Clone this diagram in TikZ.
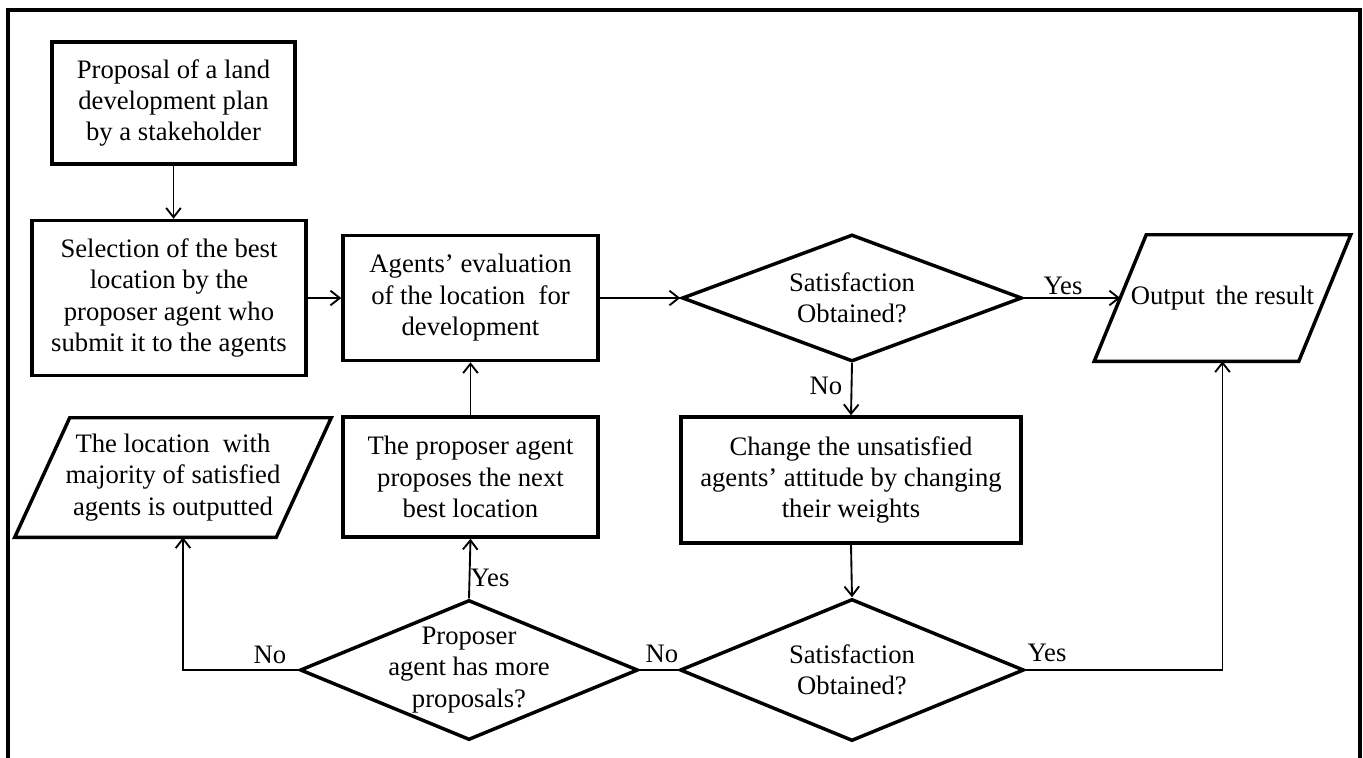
\documentclass[tikz,border=0pt]{standalone}
\usepackage{fontspec}
\setmainfont{Liberation Serif}
\usetikzlibrary{shapes.geometric,arrows.meta}
\newcommand\pxu{0.75pt}
\begin{document}
\begin{tikzpicture}[x=0.75pt,y=-0.75pt,
  every node/.style={font=\fontsize{20}{23.6}\selectfont, align=center, inner sep=0pt},
  box/.style={draw, line width=2.6pt},
  dia/.style={draw, diamond, line width=2.6pt},
  outline/.style={line width=2.6pt},
  link/.style={line width=1.4pt},
  arr/.style={link, -{Straight Barb[length=7pt,width=11pt]}}]
\useasboundingbox (0,0) rectangle (1363,757);

% frame, open at the bottom
\draw[line width=2.8pt] (8,780) -- (8,10) -- (1360,10) -- (1360,780);

% process boxes
\node[box, minimum width=243*\pxu, minimum height=122*\pxu] (b1) at (173.5,103)
  {Proposal of a land\\development plan\\by a stakeholder};
\node[box, minimum width=274*\pxu, minimum height=155*\pxu] (b2) at (169,298)
  {Selection of the best\\location by the\\proposer agent who\\submit it to the agents};
\node[box, minimum width=255*\pxu, minimum height=125*\pxu] (b3) at (470.5,298)
  {Agents’ evaluation\\of the location\ \ for\\development};
\node[box, minimum width=340*\pxu, minimum height=126*\pxu] (b4) at (851,480)
  {Change the unsatisfied\\agents’ attitude by changing\\their weights};
\node[box, minimum width=255*\pxu, minimum height=120*\pxu] (b5) at (470.5,477)
  {The proposer agent\\proposes the next\\best location};

% decisions
\node[dia, minimum width=340*\pxu, minimum height=127*\pxu] (d1) at (852,298) {};
\node (d1t) at (d1) {Satisfaction\\Obtained?};
\node[dia, minimum width=344*\pxu, minimum height=142*\pxu] (d2) at (852,670) {};
\node (d2t) at (d2) {Satisfaction\\Obtained?};
\node[dia, minimum width=338*\pxu, minimum height=140*\pxu] (d3) at (469,670) {};
\node (d3t) at (d3) {Proposer\\agent has more\\proposals?};

% outputs: parallelograms drawn around their text nodes
\node[minimum width=204*\pxu, minimum height=126*\pxu] (p1) at (1222.5,298)
  {Output\hspace{0.4em}the result};
\draw[outline] ([xshift=-26*\pxu]p1.south west) -- ([xshift=-26*\pxu]p1.south east)
  -- ([xshift=26*\pxu]p1.north east) -- ([xshift=26*\pxu]p1.north west) -- cycle;
\node[minimum width=261*\pxu, minimum height=119*\pxu] (p2) at (173,477.5)
  {The location\ \ with\\majority of satisfied\\agents is outputted};
\draw[outline] ([xshift=-27.5*\pxu]p2.south west) -- ([xshift=-27.5*\pxu]p2.south east)
  -- ([xshift=27.5*\pxu]p2.north east) -- ([xshift=27.5*\pxu]p2.north west) -- cycle;
\coordinate (p2in) at ([xshift=10*\pxu]p2.south);

% connectors
\draw[arr] (b1.south) -- (b1.south |- b2.north);
\draw[arr] (b2.east) -- (b3.west);
\draw[arr] (b3.east) -- (d1.west);
\draw[arr] (d1.east) -- (p1.west);
\draw[arr] (d1.south) -- (b4.north);
\draw[arr] (b4.south) -- (d2.north);
\draw[arr] (d2.east) -| (p1.south);
\draw[link] (d2.west) -- (d3.east);
\draw[arr] (d3.north) -- (b5.south);
\draw[arr] (b5.north) -- (b3.south);
\draw[arr] (d3.west) -| (p2in);

% branch labels
\node (l1) at (1063,286) {Yes};
\node (l2) at (826,386) {No};
\node (l3) at (1047,653) {Yes};
\node (l4) at (662,654) {No};
\node (l5) at (490,578) {Yes};
\node (l6) at (270,655) {No};
\end{tikzpicture}
\end{document}
